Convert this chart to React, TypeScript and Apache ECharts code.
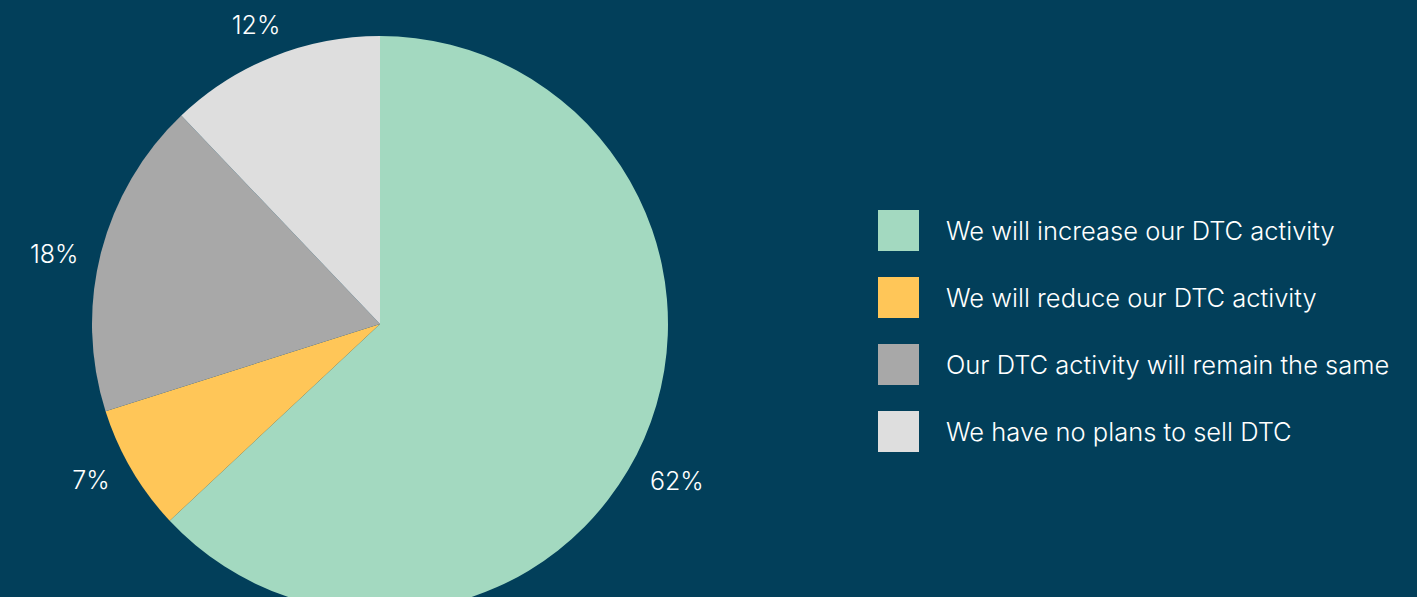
import React, { useEffect, useRef } from "react";
import * as echarts from "echarts";

const categories = [
  "We will increase our DTC activity",
  "We will reduce our DTC activity",
  "Our DTC activity will remain the same",
  "We have no plans to sell DTC",
];
const values = [62.4, 7, 17.6, 12];
const colors = ["#A3D9C0", "#FFC658", "#A8A8A8", "#DEDEDE"];

// small label nudges so labels sit where the reference places them
const labelNudges: [number, number][] = [
  [-13, 36],
  [-4, 3],
  [-3, 5],
  [18, -18],
];

export default function App() {
  const ref = useRef<HTMLDivElement>(null);
  useEffect(() => {
    if (!ref.current) return;
    const chart = echarts.init(ref.current, undefined, { renderer: "svg" });
    chart.setOption({
      animation: false,
      backgroundColor: "#023F5A",
      textStyle: { fontFamily: "Inter" },
      legend: {
        orient: "vertical",
        left: 878,
        top: 210,
        itemWidth: 41,
        itemHeight: 41,
        itemGap: 26,
        icon: "rect",
        padding: 0,
        selectedMode: false,
        data: categories,
        textStyle: {
          color: "#FFFFFF",
          fontSize: 25.5,
          fontFamily: "Inter",
          fontWeight: 300,
          padding: [0, 0, 0, 22],
        },
      },
      series: [
        {
          type: "pie",
          center: [380, 324],
          radius: 288,
          startAngle: 90,
          clockwise: true,
          avoidLabelOverlap: false,
          itemStyle: { borderWidth: 0 },
          label: {
            show: true,
            position: "outside",
            formatter: (p: any) => Math.round(p.value) + "%",
            color: "#FFFFFF",
            fontSize: 25,
            fontFamily: "Inter",
            fontWeight: 300,
            distanceToLabelLine: 5,
          },
          labelLine: { show: false, length: 15, length2: 0 },
          labelLayout: (p: any) => ({
            dx: labelNudges[p.dataIndex][0],
            dy: labelNudges[p.dataIndex][1],
          }),
          emphasis: { disabled: true },
          data: categories.map((name, i) => ({
            name,
            value: values[i],
            itemStyle: { color: colors[i] },
          })),
        },
      ],
    });
    return () => chart.dispose();
  }, []);
  return (
    <div
      ref={ref}
      style={{ position: "fixed", left: 0, top: 0, width: 1417, height: 597 }}
    />
  );
}
